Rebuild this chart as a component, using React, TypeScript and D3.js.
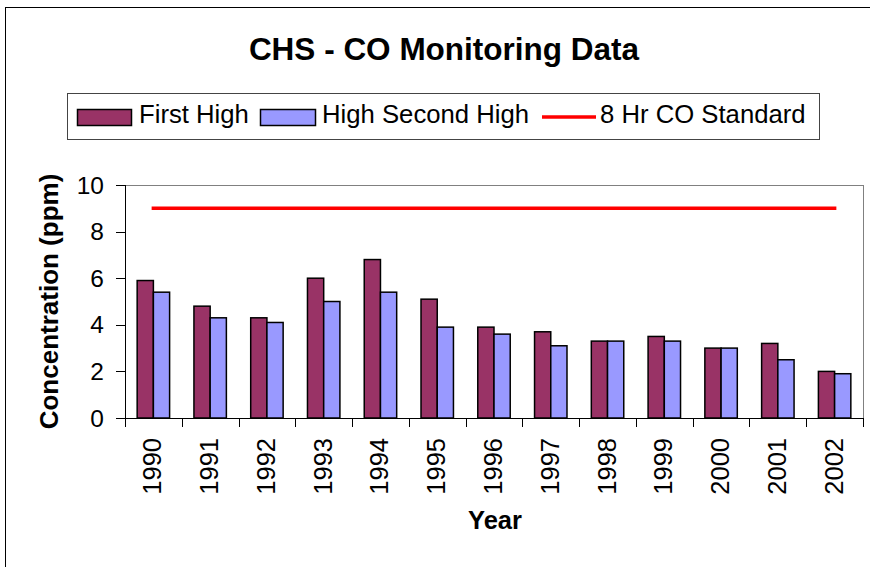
import React from "react";
import * as d3 from "d3";

const years = ["1990","1991","1992","1993","1994","1995","1996","1997","1998","1999","2000","2001","2002"];
const firstHigh = [5.9, 4.8, 4.3, 6.0, 6.8, 5.1, 3.9, 3.7, 3.3, 3.5, 3.0, 3.2, 2.0];
const secondHigh = [5.4, 4.3, 4.1, 5.0, 5.4, 3.9, 3.6, 3.1, 3.3, 3.3, 3.0, 2.5, 1.9];
const standard = 9;
const yTicks = [0, 2, 4, 6, 8, 10];
const seriesNames = ["First High", "High Second High", "8 Hr CO Standard"];

const W = 870, H = 567;
const plot = { left: 125, right: 863, top: 185, bottom: 418 };
const FONT = "'Liberation Sans', Arial, sans-serif";
const C1 = "#993366", C2 = "#9999FF", CR = "#FF0000";

export default function App() {
  const x = d3.scaleBand<string>().domain(years).range([plot.left, plot.right]).paddingInner(0).paddingOuter(0);
  const y = d3.scaleLinear().domain([0, 10]).range([plot.bottom, plot.top]);
  const bw = x.bandwidth();
  const barW = bw / 3.5;
  const off = bw * 0.75 / 3.5;
  const boundaries = [...years.map((yr) => x(yr)!), plot.right];
  const lineGen = d3.line<number>().x((_, i) => x(years[i])! + bw / 2).y((v) => y(v));
  const stdData = years.map(() => standard);

  return (
    <svg width={W} height={H} style={{ position: "absolute", left: 0, top: 0, background: "#fff" }} fontFamily={FONT}>
      <rect x={5.5} y={7.5} width={900} height={600} fill="#fff" stroke="#000" strokeWidth={1} />
      <text x={444} y={60} textAnchor="middle" fontSize={31.5} fontWeight="bold">CHS - CO Monitoring Data</text>

      {/* legend */}
      <rect x={67.5} y={93.5} width={752} height={46} fill="#fff" stroke="#444" strokeWidth={1} />
      <rect x={77.5} y={109.5} width={54} height={16} fill={C1} stroke="#000" strokeWidth={1.5} />
      <text x={139} y={123} fontSize={25.7}>{seriesNames[0]}</text>
      <rect x={260.5} y={109.5} width={55} height={16} fill={C2} stroke="#000" strokeWidth={1.5} />
      <text x={322} y={123} fontSize={25.7}>{seriesNames[1]}</text>
      <line x1={542} x2={596} y1={117} y2={117} stroke={CR} strokeWidth={3.5} />
      <text x={600} y={123} fontSize={25.7}>{seriesNames[2]}</text>

      {/* plot frame */}
      <line x1={plot.left} x2={plot.right} y1={plot.top + 0.5} y2={plot.top + 0.5} stroke="#808080" />
      <line x1={plot.right + 0.5} x2={plot.right + 0.5} y1={plot.top} y2={plot.bottom} stroke="#808080" />

      {/* bars */}
      {years.map((yr, i) => (
        <g key={yr}>
          <rect x={x(yr)! + off} y={y(firstHigh[i])} width={barW} height={y(0) - y(firstHigh[i])} fill={C1} stroke="#000" strokeWidth={1.5} />
          <rect x={x(yr)! + off + barW} y={y(secondHigh[i])} width={barW} height={y(0) - y(secondHigh[i])} fill={C2} stroke="#000" strokeWidth={1.5} />
        </g>
      ))}

      {/* standard line */}
      <path d={lineGen(stdData)!} fill="none" stroke={CR} strokeWidth={3.5} strokeLinecap="square" />

      {/* axes */}
      <line x1={plot.left + 0.5} x2={plot.left + 0.5} y1={plot.top} y2={plot.bottom} stroke="#000" />
      <line x1={plot.left} x2={plot.right} y1={plot.bottom + 0.5} y2={plot.bottom + 0.5} stroke="#000" />
      {yTicks.map((t) => (
        <g key={t}>
          <line x1={plot.left - 9} x2={plot.left} y1={Math.round(y(t)) + 0.5} y2={Math.round(y(t)) + 0.5} stroke="#000" />
          <text x={104} y={y(t)} textAnchor="end" dominantBaseline="central" fontSize={24.5}>{t}</text>
        </g>
      ))}
      {boundaries.map((b, i) => (
        <line key={i} x1={Math.round(b) + 0.5} x2={Math.round(b) + 0.5} y1={plot.bottom} y2={plot.bottom + 9} stroke="#000" />
      ))}
      {years.map((yr) => (
        <text key={yr} transform={`translate(${x(yr)! + bw / 2 - 1},438) rotate(-90)`} textAnchor="end" dominantBaseline="central" fontSize={25.5}>{yr}</text>
      ))}
      <text x={495} y={529} textAnchor="middle" fontSize={25.5} fontWeight="bold">Year</text>
      <text transform={`translate(49,${(plot.top + plot.bottom) / 2}) rotate(-90)`} textAnchor="middle" dominantBaseline="central" fontSize={26} fontWeight="bold">Concentration (ppm)</text>
    </svg>
  );
}
